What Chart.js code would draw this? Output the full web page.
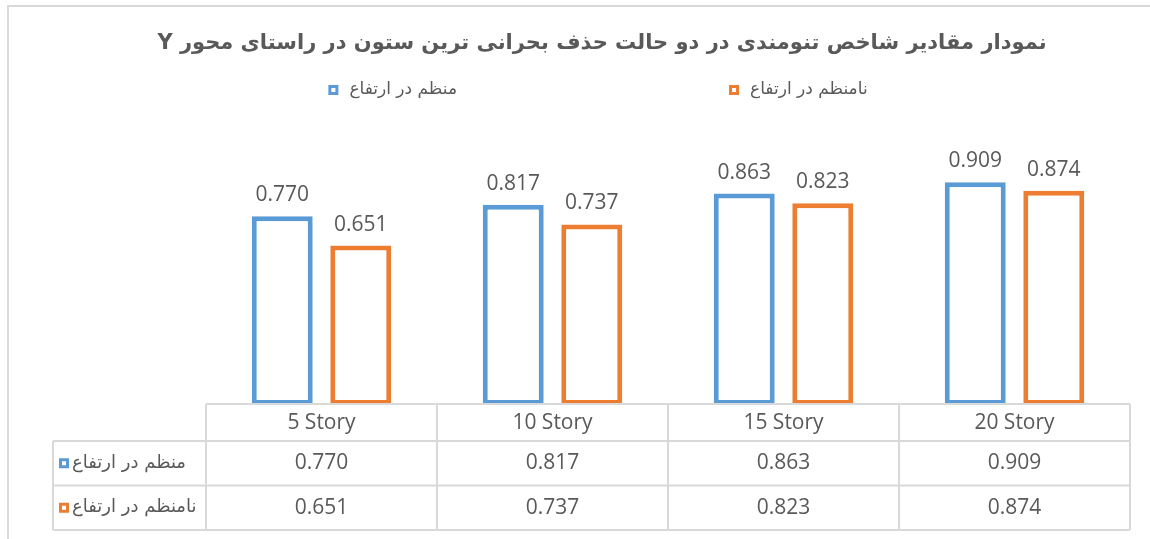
<!DOCTYPE html>
<html>
<head>
<meta charset="utf-8">
<script src="https://cdn.jsdelivr.net/npm/chart.js@4.4.1/dist/chart.umd.min.js"></script>
<style>
  html, body { margin: 0; padding: 0; overflow: hidden; background: #fff; }
  #frame { position: absolute; left: 7px; top: 5px; width: 1200px; height: 600px; border: 2px solid #d9d9d9; }
  #chart { position: absolute; left: 0; top: 0; }
</style>
</head>
<body>
<div id="frame"><canvas id="chart" width="1186" height="532"></canvas></div>
<script>
const chartTitle = 'نمودار مقادیر شاخص تنومندی در دو حالت حذف بحرانی ترین ستون در راستای محور Y';
const categories = ['5 Story', '10 Story', '15 Story', '20 Story'];
const seriesNames = ['منظم در ارتفاع', 'نامنظم در ارتفاع'];
const regularValues = [0.770, 0.817, 0.863, 0.909];
const irregularValues = [0.651, 0.737, 0.823, 0.874];
const seriesColors = ['#5b9bd5', '#ed7d31'];

const textColor = '#595959';
const lineColor = '#d9d9d9';
const persianFont = 'DejaVu Sans';

// small legend key: coloured square with a white centre
function drawKey(ctx, x, y, color) {
  ctx.fillStyle = color;
  ctx.fillRect(x, y - 5, 10, 10);
  ctx.fillStyle = '#ffffff';
  ctx.fillRect(x + 3, y - 2, 4, 4);
}

const valueLabels = {
  id: 'valueLabels',
  afterDatasetsDraw(chart) {
    const ctx = chart.ctx;
    ctx.save();
    ctx.font = '21px "Open Sans"';
    ctx.fillStyle = textColor;
    ctx.textAlign = 'center';
    ctx.textBaseline = 'alphabetic';
    chart.data.datasets.forEach((ds, i) => {
      chart.getDatasetMeta(i).data.forEach((bar, j) => {
        ctx.fillText(ds.data[j].toFixed(3), bar.x, bar.y - 15);
      });
    });
    ctx.restore();
  }
};

const topLegend = {
  id: 'topLegend',
  afterDraw(chart) {
    const ctx = chart.ctx;
    const y = 83;
    const itemGap = 272;
    ctx.save();
    ctx.font = '17px "' + persianFont + '"';
    ctx.direction = 'rtl';
    const widths = chart.data.datasets.map(ds => 21 + ctx.measureText(ds.label).width);
    const total = widths.reduce((a, b) => a + b, 0) + itemGap * (widths.length - 1);
    let x = chart.width / 2 - 4 - total / 2;
    chart.data.datasets.forEach((ds, i) => {
      drawKey(ctx, x, y, ds.borderColor);
      ctx.fillStyle = textColor;
      ctx.textAlign = 'left';
      ctx.textBaseline = 'middle';
      ctx.fillText(ds.label, x + 21, y);
      x += widths[i] + itemGap;
    });
    ctx.restore();
  }
};

const dataTable = {
  id: 'dataTable',
  afterDraw(chart) {
    const ctx = chart.ctx;
    const area = chart.chartArea;
    const xs = chart.scales.x;
    const tableLeft = 44;
    const headerH = 37;
    const rowH = 44.5;
    const top = area.bottom - 1;
    const n = categories.length;
    const catW = (area.right - area.left) / n;
    const rows = chart.data.datasets.length;
    const bottom = top + headerH + rows * rowH;

    ctx.save();
    ctx.strokeStyle = lineColor;
    ctx.lineWidth = 2;
    ctx.beginPath();
    ctx.moveTo(area.left, top);
    ctx.lineTo(area.right, top);
    for (let r = 0; r <= rows; r++) {
      const yy = top + headerH + r * rowH;
      ctx.moveTo(tableLeft, yy);
      ctx.lineTo(area.right, yy);
    }
    for (let i = 0; i <= n; i++) {
      const xx = area.left + i * catW;
      ctx.moveTo(xx, top);
      ctx.lineTo(xx, bottom);
    }
    ctx.moveTo(tableLeft, top + headerH);
    ctx.lineTo(tableLeft, bottom);
    ctx.stroke();

    chart.data.datasets.forEach((ds, r) => {
      const cy = top + headerH + r * rowH + rowH / 2;
      ctx.font = '21px "Open Sans"';
      ctx.fillStyle = textColor;
      ctx.textAlign = 'center';
      ctx.textBaseline = 'middle';
      ctx.direction = 'ltr';
      ds.data.forEach((v, j) => {
        ctx.fillText(v.toFixed(3), xs.getPixelForValue(j), cy);
      });
      drawKey(ctx, tableLeft + 6, cy, ds.borderColor);
      ctx.font = '18px "' + persianFont + '"';
      ctx.fillStyle = textColor;
      ctx.textAlign = 'left';
      ctx.direction = 'rtl';
      ctx.fillText(ds.label, tableLeft + 19, cy);
    });
    ctx.restore();
  }
};

const hiddenAxis = (position, width) => ({
  type: 'linear',
  position: position,
  min: 0,
  max: 1,
  ticks: { display: false },
  grid: { display: false, drawTicks: false },
  border: { display: false },
  afterFit(s) { s.width = width; }
});

Chart.defaults.font.family = 'Open Sans';

new Chart(document.getElementById('chart'), {
  type: 'bar',
  data: {
    labels: categories,
    datasets: [
      {
        label: seriesNames[0],
        data: regularValues,
        backgroundColor: '#ffffff',
        borderColor: seriesColors[0],
        borderWidth: 5,
        borderSkipped: false,
        categoryPercentage: 0.68,
        barPercentage: 0.776,
        yAxisID: 'y'
      },
      {
        label: seriesNames[1],
        data: irregularValues,
        backgroundColor: '#ffffff',
        borderColor: seriesColors[1],
        borderWidth: 5,
        borderSkipped: false,
        categoryPercentage: 0.68,
        barPercentage: 0.776,
        yAxisID: 'y'
      }
    ]
  },
  options: {
    responsive: false,
    animation: false,
    devicePixelRatio: 1,
    layout: { padding: { top: 11, bottom: 9, left: 0, right: 0 } },
    scales: {
      x: {
        offset: true,
        grid: { display: false, drawTicks: false },
        border: { display: false },
        ticks: {
          color: textColor,
          font: { size: 21 },
          padding: 5,
          maxRotation: 0,
          autoSkip: false
        },
        afterFit(s) { s.height = 125; }
      },
      y: hiddenAxis('left', 197),
      yR: hiddenAxis('right', 65)
    },
    plugins: {
      legend: { display: false },
      tooltip: { enabled: false },
      title: {
        display: true,
        text: '\u202B' + chartTitle + '\u202C',
        color: textColor,
        font: { family: persianFont, size: 21, weight: 'bold' },
        padding: { top: 13, bottom: 103.8 }
      }
    }
  },
  plugins: [valueLabels, topLegend, dataTable]
});
</script>
</body>
</html>
